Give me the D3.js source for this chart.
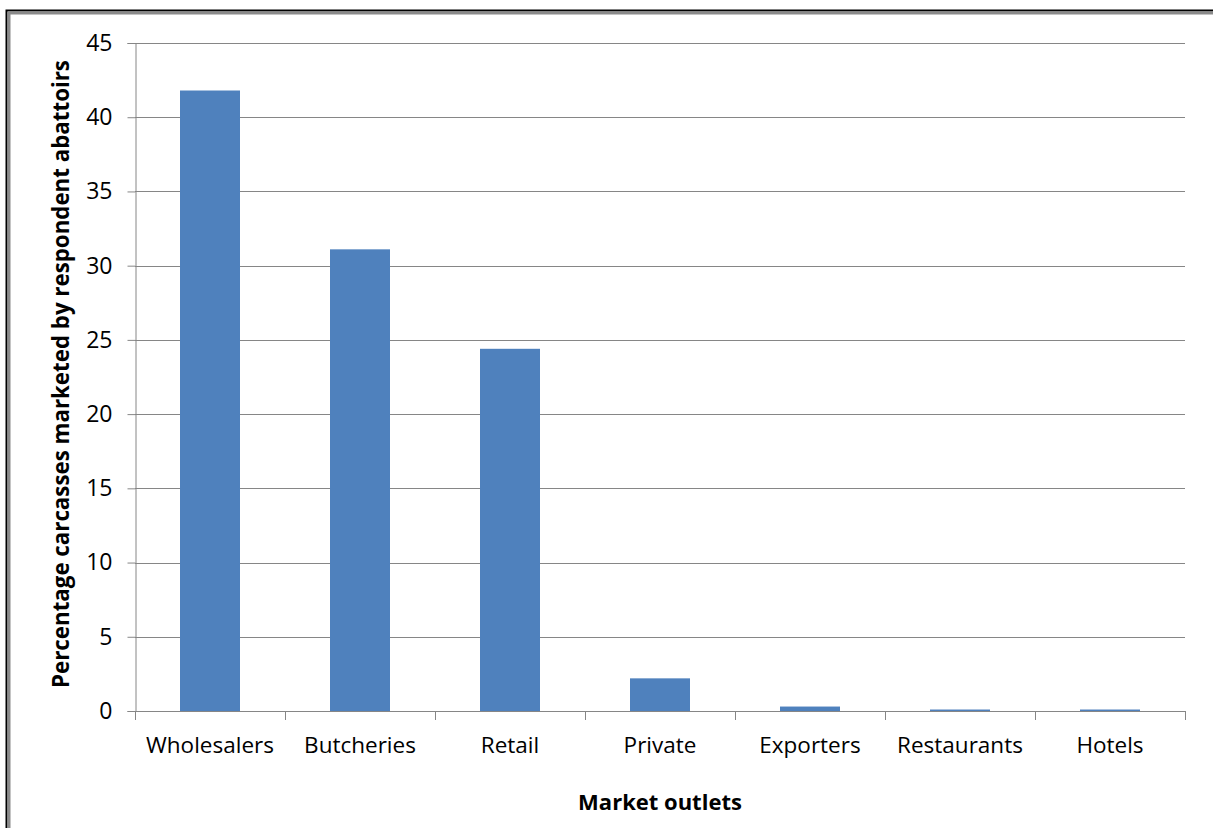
<!DOCTYPE html>
<html>
<head>
<meta charset="utf-8">
<script src="https://cdn.jsdelivr.net/npm/d3@7"></script>
<style>
  html, body { margin: 0; padding: 0; background: #fff; }
  svg { display: block; }
  text { font-family: "Open Sans", "Noto Sans", sans-serif; fill: #000; }
</style>
</head>
<body>
<svg id="chart" width="1213" height="828"></svg>
<script>
// Share of carcasses sold through each market outlet (%)
const outlets = ["Wholesalers", "Butcheries", "Retail", "Private", "Exporters", "Restaurants", "Hotels"];
const percentages = [41.8, 31.1, 24.4, 2.2, 0.3, 0.1, 0.1];
const yTicks = [0, 5, 10, 15, 20, 25, 30, 35, 40, 45];

const svg = d3.select("#chart");
const W = 1213, H = 828;

// outer frame (top and left edges visible)
svg.append("rect").attr("x", 0).attr("y", 0).attr("width", W).attr("height", H).attr("fill", "#fff");
svg.append("path").attr("d", `M6.5,${H} V10.5 H${W}`).attr("fill", "none").attr("stroke", "#000").attr("stroke-width", 2);
svg.append("path").attr("d", `M9,${H} V13 H${W}`).attr("fill", "none").attr("stroke", "#8a8a8a").attr("stroke-width", 3);

const m = { left: 135, right: 1185, top: 43, bottom: 711 };

const x = d3.scaleBand().domain(outlets).range([m.left, m.right]).paddingInner(0.6).paddingOuter(0.3);
const xTickScale = d3.scaleLinear().domain([0, outlets.length]).range([m.left, m.right]);
const y = d3.scaleLinear().domain([0, 45]).range([m.bottom, m.top]);

const gridColor = "#868686";

// horizontal gridlines
svg.append("g").selectAll("line").data(yTicks.filter(d => d > 0)).join("line")
  .attr("x1", m.left).attr("x2", m.right)
  .attr("y1", d => Math.round(y(d)) + 0.5).attr("y2", d => Math.round(y(d)) + 0.5)
  .attr("stroke", gridColor).attr("stroke-width", 1);

// y axis
const yAxis = svg.append("g").attr("transform", `translate(${m.left + 0.5},0)`)
  .call(d3.axisLeft(y).tickValues(yTicks).tickSize(8).tickPadding(15).tickFormat(d3.format("d")));
yAxis.select(".domain").attr("stroke", gridColor);
yAxis.selectAll(".tick line").attr("stroke", gridColor);
yAxis.selectAll(".tick text").attr("font-size", 23).attr("font-family", "\"Open Sans\", sans-serif").attr("fill", "#000");

// bars
svg.append("g").selectAll("rect").data(percentages).join("rect")
  .attr("x", (d, i) => x(outlets[i]))
  .attr("width", x.bandwidth())
  .attr("y", d => y(d))
  .attr("height", d => y(0) - y(d))
  .attr("fill", "#4f81bd");

// x axis baseline and category separators
const xg = svg.append("g");
xg.append("line").attr("x1", m.left).attr("x2", m.right)
  .attr("y1", m.bottom + 0.5).attr("y2", m.bottom + 0.5).attr("stroke", gridColor);
xg.selectAll("line.sep").data(d3.range(outlets.length + 1)).join("line").attr("class", "sep")
  .attr("x1", d => Math.round(xTickScale(d)) + 0.5).attr("x2", d => Math.round(xTickScale(d)) + 0.5)
  .attr("y1", m.bottom).attr("y2", m.bottom + 9).attr("stroke", gridColor);
xg.selectAll("text").data(outlets).join("text")
  .attr("x", d => x(d) + x.bandwidth() / 2)
  .attr("y", 753)
  .attr("text-anchor", "middle")
  .attr("font-size", 22.5)
  .text(d => d);

// axis titles
svg.append("text")
  .attr("x", 660).attr("y", 810)
  .attr("text-anchor", "middle").attr("font-size", 22).attr("font-weight", "bold")
  .text("Market outlets");

svg.append("text")
  .attr("transform", "translate(69,374) rotate(-90)")
  .attr("text-anchor", "middle").attr("font-size", 22.3).attr("font-weight", "bold")
  .text("Percentage carcasses marketed by respondent abattoirs");
</script>
</body>
</html>
